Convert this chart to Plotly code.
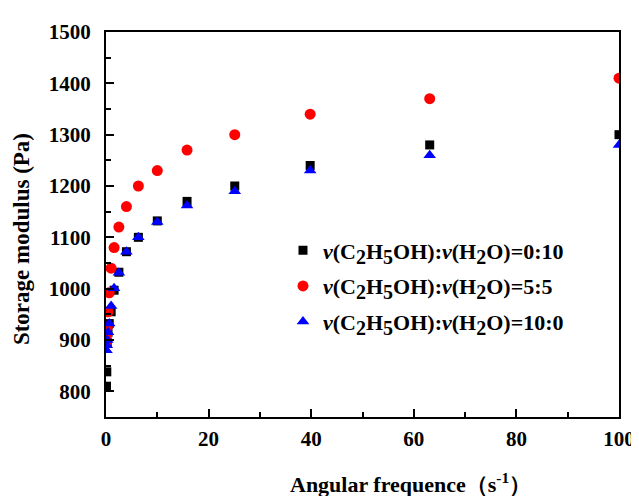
import plotly.graph_objects as go

freq = [0.1, 0.158, 0.251, 0.398, 0.631, 1.0, 1.58, 2.51, 3.98, 6.31, 10.0, 15.8, 25.1, 39.8, 63.1, 100.0]
g_0_10 = [810, 838, 895, 915, 932, 955, 997, 1032, 1072, 1100, 1132, 1170, 1200, 1240, 1280, 1300]
g_5_5 = [895, 910, 925, 955, 992, 1040, 1080, 1120, 1160, 1200, 1230, 1270, 1300, 1340, 1370, 1410]
g_10_0 = [880, 890, 900, 915, 932, 966, 1001, 1031, 1072, 1100, 1130, 1162, 1190, 1230, 1260, 1280]
ratios = ["0:10", "5:5", "10:0"]

FONT = "Liberation Serif"
SUB = '<sub><span style="font-size:20px">{}</span></sub>'


def label(r):
    return ("<i>v</i>(C" + SUB.format("2") + "H" + SUB.format("5") + "OH):<i>v</i>(H"
            + SUB.format("2") + "O)=" + r)


fig = go.Figure()
series = [g_0_10, g_5_5, g_10_0]
symbols = ["square", "circle", "triangle-up"]
colors = ["#000000", "#ff0000", "#0000ff"]
sizes = [9, 11, 11]
for i, (ys, sym, col, sz) in enumerate(zip(series, symbols, colors, sizes)):
    fig.add_trace(go.Scatter(
        x=freq, y=ys, mode="markers", name=label(ratios[i]), legendgroup=str(i),
        marker=dict(symbol=sym, color=col, size=sz, line=dict(width=0)),
    ))

axis_common = dict(
    showgrid=False, zeroline=False, showline=True, linecolor="black", linewidth=2,
    mirror=True, ticks="inside", ticklen=8, tickwidth=2, tickcolor="black",
    tickfont=dict(family=FONT, size=21, color="black", weight="bold"),
)
fig.update_xaxes(range=[0, 100], dtick=20, tick0=0, ticklabelstandoff=2,
                 minor=dict(dtick=10, ticks="inside", ticklen=5, tickwidth=2, tickcolor="black"),
                 **axis_common)
fig.update_yaxes(range=[750, 1500], dtick=100, tick0=800, ticklabelstandoff=9,
                 minor=dict(dtick=50, ticks="inside", ticklen=5, tickwidth=2, tickcolor="black"),
                 **axis_common)

fig.add_annotation(text="Angular frequence（s<sup>-1</sup>）", xref="paper", yref="paper",
                   x=0.593, y=-0.172, xanchor="center", yanchor="middle", showarrow=False,
                   font=dict(family=FONT, size=22, color="black", weight="bold"))
fig.add_annotation(text="Storage modulus (Pa)", xref="paper", yref="paper",
                   x=-0.165, y=0.463, xanchor="center", yanchor="middle", showarrow=False,
                   textangle=-90,
                   font=dict(family=FONT, size=23, color="black", weight="bold"))

fig.update_layout(
    width=639, height=496,
    margin=dict(l=98, r=25, t=16, b=87),
    paper_bgcolor="white", plot_bgcolor="white",
    showlegend=True,
    legend=dict(x=0.345, y=0.487, xanchor="left", yanchor="top",
                bgcolor="rgba(0,0,0,0)", tracegroupgap=4, itemwidth=30,
                font=dict(family=FONT, size=22, color="black", weight="bold")),
)
fig.write_html("out.html")
